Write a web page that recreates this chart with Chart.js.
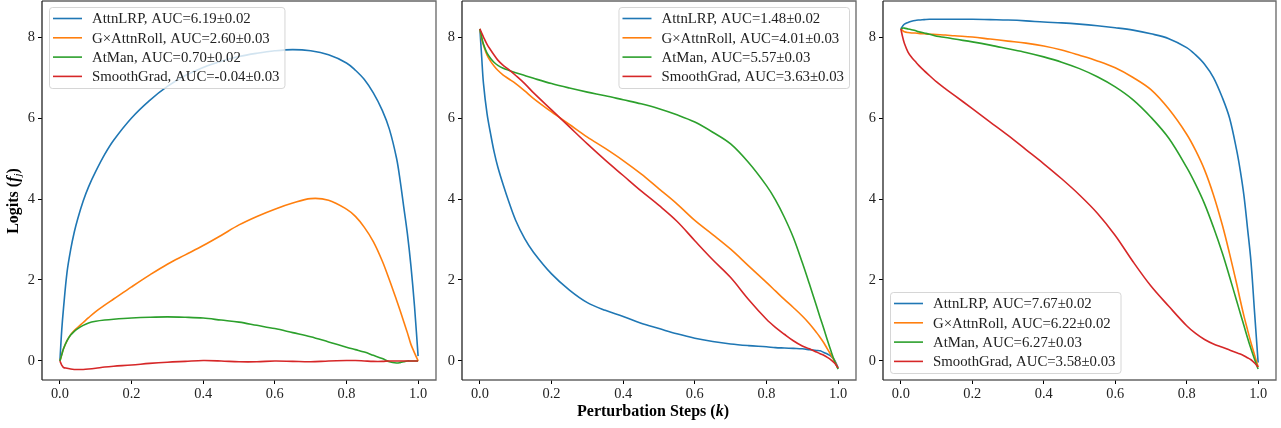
<!DOCTYPE html>
<html>
<head>
<meta charset="utf-8">
<script src="https://cdn.jsdelivr.net/npm/chart.js@4.4.1/dist/chart.umd.min.js"></script>
<style>
  html, body { margin: 0; padding: 0; background: #fff; }
  #wrap { position: relative; width: 1281px; height: 428px; overflow: hidden; }
  canvas { position: absolute; top: 0; }
</style>
</head>
<body>
<div id="wrap">
  <canvas id="panel1" style="left:0px;width:446px;height:428px" width="446" height="428"></canvas>
  <canvas id="panel2" style="left:420px;width:446px;height:428px" width="446" height="428"></canvas>
  <canvas id="panel3" style="left:841px;width:440px;height:428px" width="440" height="428"></canvas>
</div>
<script>
// perturbation steps (k) shared by every curve
const steps = [0, 0.005, 0.01, 0.02, 0.03, 0.04, 0.05, 0.065, 0.08, 0.1,
               0.125, 0.15, 0.2, 0.25, 0.3, 0.35, 0.4, 0.45, 0.5, 0.55,
               0.6, 0.65, 0.7, 0.75, 0.8, 0.825, 0.85, 0.875, 0.9, 0.92,
               0.94, 0.95, 0.96, 0.97, 0.98, 0.99, 1.0];

const methods = ['AttnLRP', 'G\u00d7AttnRoll', 'AtMan', 'SmoothGrad'];
const colors = ['#1f77b4', '#ff7f0e', '#2ca02c', '#d62728'];

const xTicks = [0, 0.2, 0.4, 0.6, 0.8, 1.0];
const yTicks = [0, 2, 4, 6, 8];

// panel 1
const auc1 = ['6.19\u00b10.02', '2.60\u00b10.03', '0.70\u00b10.02', '-0.04\u00b10.03'];
const lrp1 = [0, 0.75, 1.3, 2.2, 2.75, 3.18, 3.52, 3.95, 4.3, 4.68,
              5.1, 5.45, 6.0, 6.43, 6.78, 7.05, 7.25, 7.4, 7.52, 7.6,
              7.66, 7.69, 7.66, 7.56, 7.36, 7.18, 6.95, 6.62, 6.19, 5.72,
              5.0, 4.45, 3.8, 3.15, 2.35, 1.35, 0.12];
const roll1 = [0, 0.15, 0.3, 0.5, 0.65, 0.75, 0.83, 0.95, 1.07, 1.22,
               1.38, 1.53, 1.83, 2.12, 2.39, 2.62, 2.85, 3.1, 3.36, 3.57,
               3.75, 3.9, 4.01, 3.97, 3.75, 3.57, 3.3, 2.95, 2.47, 2.0,
               1.5, 1.24, 0.97, 0.7, 0.41, 0.2, 0];
const atman1 = [0, 0.15, 0.3, 0.5, 0.64, 0.73, 0.8, 0.88, 0.94, 0.98,
                1.01, 1.03, 1.06, 1.08, 1.09, 1.08, 1.06, 1.01, 0.96, 0.88,
                0.8, 0.7, 0.6, 0.47, 0.34, 0.28, 0.22, 0.14, 0.06, -0.02,
                -0.05, -0.04, -0.02, 0, 0, 0, 0];
const sg1 = [0, -0.1, -0.16, -0.18, -0.2, -0.21, -0.21, -0.21, -0.2, -0.18,
             -0.15, -0.13, -0.1, -0.06, -0.03, -0.01, 0.01, 0, -0.02, -0.02,
             0, -0.01, -0.02, 0, 0.01, 0.01, 0, -0.01, -0.01, 0,
             0, 0, 0, 0, 0, 0, 0];

// panel 2
const auc2 = ['1.48\u00b10.02', '4.01\u00b10.03', '5.57\u00b10.03', '3.63\u00b10.03'];
const lrp2 = [8.2, 7.5, 6.85, 6.1, 5.6, 5.15, 4.79, 4.35, 3.95, 3.47,
              3.02, 2.68, 2.15, 1.75, 1.44, 1.25, 1.1, 0.93, 0.8, 0.67,
              0.56, 0.48, 0.42, 0.38, 0.35, 0.33, 0.32, 0.31, 0.3, 0.28,
              0.26, 0.25, 0.21, 0.17, 0.12, 0.02, -0.17];
const roll2 = [8.2, 7.95, 7.8, 7.55, 7.4, 7.28, 7.18, 7.06, 6.97, 6.85,
               6.67, 6.48, 6.15, 5.84, 5.53, 5.25, 4.95, 4.62, 4.25, 3.88,
               3.47, 3.12, 2.76, 2.35, 1.94, 1.73, 1.52, 1.32, 1.11, 0.92,
               0.7, 0.58, 0.45, 0.3, 0.15, 0, -0.19];
const atman2 = [8.2, 8.0, 7.82, 7.6, 7.47, 7.37, 7.3, 7.23, 7.18, 7.12,
                7.05, 6.98, 6.85, 6.74, 6.64, 6.55, 6.45, 6.35, 6.23, 6.08,
                5.9, 5.65, 5.36, 4.9, 4.33, 3.98, 3.55, 3.05, 2.43, 1.9,
                1.35, 1.07, 0.8, 0.52, 0.25, 0.0, -0.2];
const sg2 = [8.2, 8.1, 8.0, 7.82, 7.68, 7.55, 7.43, 7.3, 7.2, 7.05,
             6.85, 6.62, 6.2, 5.78, 5.36, 4.96, 4.58, 4.2, 3.84, 3.45,
             2.97, 2.5, 2.06, 1.52, 1.03, 0.83, 0.66, 0.5, 0.37, 0.3,
             0.22, 0.18, 0.14, 0.09, 0.03, -0.05, -0.17];

// panel 3
const auc3 = ['7.67\u00b10.02', '6.22\u00b10.02', '6.27\u00b10.03', '3.58\u00b10.03'];
const lrp3 = [8.2, 8.27, 8.32, 8.36, 8.39, 8.41, 8.42, 8.43, 8.44, 8.44,
              8.44, 8.44, 8.44, 8.43, 8.42, 8.4, 8.37, 8.35, 8.32, 8.28,
              8.23, 8.17, 8.08, 7.96, 7.74, 7.56, 7.33, 7.0, 6.5, 6.0,
              5.2, 4.7, 4.1, 3.3, 2.45, 1.2, -0.04];
const roll3 = [8.2, 8.16, 8.13, 8.11, 8.1, 8.1, 8.09, 8.08, 8.07, 8.06,
               8.05, 8.03, 8.0, 7.95, 7.9, 7.85, 7.78, 7.68, 7.55, 7.41,
               7.24, 7.0, 6.7, 6.22, 5.6, 5.2, 4.72, 4.1, 3.35, 2.65,
               1.9, 1.5, 1.12, 0.78, 0.45, 0.15, -0.15];
const atman3 = [8.2, 8.22, 8.22, 8.2, 8.18, 8.16, 8.13, 8.1, 8.07, 8.02,
                7.99, 7.95, 7.88, 7.8, 7.71, 7.62, 7.51, 7.38, 7.22, 7.02,
                6.77, 6.45, 6.02, 5.5, 4.78, 4.36, 3.88, 3.3, 2.66, 2.08,
                1.48, 1.18, 0.88, 0.58, 0.3, 0.04, -0.2];
const sg3 = [8.2, 8.0, 7.84, 7.63, 7.5, 7.4, 7.3, 7.17, 7.05, 6.89,
             6.72, 6.56, 6.23, 5.9, 5.57, 5.22, 4.87, 4.5, 4.1, 3.65,
             3.1, 2.45, 1.85, 1.35, 0.87, 0.68, 0.53, 0.42, 0.34, 0.27,
             0.2, 0.17, 0.13, 0.08, 0.03, -0.05, -0.15];

const SERIF = "'Liberation Serif', 'DejaVu Serif', serif";
const TICK_FONT = { family: SERIF, size: 14.4 };

// box around the axes, like matplotlib spines
const frame = {
    id: 'frame',
    afterDraw(chart) {
        const { ctx, chartArea: a } = chart;
        ctx.save();
        ctx.lineWidth = 1.3;
        ctx.strokeStyle = '#666';
        ctx.beginPath();
        ctx.moveTo(a.left, a.top);
        ctx.lineTo(a.right, a.top);
        ctx.lineTo(a.right, a.bottom);
        ctx.lineTo(a.left, a.bottom);
        ctx.stroke();
        ctx.strokeStyle = '#222';
        ctx.beginPath();
        ctx.moveTo(a.left, a.top);
        ctx.lineTo(a.left, a.bottom);
        ctx.stroke();
        ctx.restore();
    }
};

// legend drawn inside the axes
const legendBox = {
    id: 'legendBox',
    afterDraw(chart, args, opts) {
        const { ctx, chartArea: a } = chart;
        const texts = methods.map((m, i) => m + ', AUC=' + opts.aucs[i]);
        ctx.save();
        ctx.font = '14.8px ' + SERIF;
        const tw = Math.max(...texts.map(t => ctx.measureText(t).width));
        const w = tw + 48, h = 81;
        const x = opts.corner.includes('r') ? a.right - 7 - w : a.left + 7;
        const y = opts.corner.includes('t') ? a.top + 6 : a.bottom - 7 - h;
        ctx.beginPath();
        ctx.roundRect(x + 0.5, y + 0.5, w, h, 3);
        ctx.fillStyle = 'rgba(255,255,255,0.8)';
        ctx.fill();
        ctx.strokeStyle = 'rgba(204,204,204,0.8)';
        ctx.lineWidth = 1;
        ctx.stroke();
        texts.forEach((t, i) => {
            const ry = y + 11.5 + i * 19.3;
            ctx.strokeStyle = colors[i];
            ctx.lineWidth = 1.6;
            ctx.beginPath();
            ctx.moveTo(x + 4, ry);
            ctx.lineTo(x + 33, ry);
            ctx.stroke();
            ctx.fillStyle = '#222';
            ctx.textBaseline = 'middle';
            ctx.fillText(t, x + 43, ry + 1);
        });
        ctx.restore();
    }
};

// mixed bold / italic axis titles
function drawParts(ctx, parts) {
    let total = 0;
    parts.forEach(p => { ctx.font = p.font; p.w = ctx.measureText(p.t).width; total += p.w; });
    let cx = -total / 2;
    parts.forEach(p => {
        ctx.font = p.font;
        ctx.fillText(p.t, cx, p.dy || 0);
        cx += p.w;
    });
}

const axisTitles = {
    id: 'axisTitles',
    afterDraw(chart, args, opts) {
        const ctx = chart.ctx;
        ctx.save();
        ctx.fillStyle = '#000';
        ctx.textBaseline = 'middle';
        if (opts.y) {
            ctx.translate(14, 201);
            ctx.rotate(-Math.PI / 2);
            drawParts(ctx, [
                { t: 'Logits (', font: 'bold 16px ' + SERIF },
                { t: 'f', font: 'bold italic 16px ' + SERIF },
                { t: 'j', font: 'italic 11px ' + SERIF, dy: 4 },
                { t: ')', font: 'bold 16px ' + SERIF }
            ]);
        }
        if (opts.x) {
            ctx.translate(chart.chartArea.left + (chart.chartArea.right - chart.chartArea.left) / 2 - 6, 412);
            drawParts(ctx, [
                { t: 'Perturbation Steps (', font: 'bold 16px ' + SERIF },
                { t: 'k', font: 'bold italic 16px ' + SERIF },
                { t: ')', font: 'bold 16px ' + SERIF }
            ]);
        }
        ctx.restore();
    }
};

function makePanel(canvasId, series, aucs, corner, rightPad, titles) {
    const ctx = document.getElementById(canvasId).getContext('2d');
    const datasets = series.map((vals, i) => ({
        label: methods[i],
        data: steps.map((s, j) => ({ x: s, y: vals[j] })),
        borderColor: colors[i],
        borderWidth: 1.6,
        pointRadius: 0,
        fill: false,
        tension: 0.35,
        order: 4 - i
    }));
    return new Chart(ctx, {
        type: 'line',
        data: { datasets: datasets },
        options: {
            responsive: false,
            animation: false,
            events: [],
            layout: { padding: { left: 0, right: rightPad, top: 1, bottom: 0 } },
            scales: {
                x: {
                    type: 'linear',
                    min: -0.05,
                    max: 1.05,
                    afterBuildTicks: s => { s.ticks = xTicks.map(v => ({ value: v })); },
                    afterFit: s => { s.height = 48; s.paddingLeft = 0; s.paddingRight = 0; },
                    grid: { drawOnChartArea: false, tickLength: 4, color: '#000' },
                    border: { display: false },
                    ticks: {
                        color: '#222', font: TICK_FONT, padding: 2, maxRotation: 0, autoSkip: false,
                        callback: v => Number(v).toFixed(1)
                    }
                },
                y: {
                    min: -0.47,
                    max: 8.89,
                    afterBuildTicks: s => { s.ticks = yTicks.map(v => ({ value: v })); },
                    afterFit: s => { s.width = 42; s.paddingTop = 0; s.paddingBottom = 0; },
                    grid: { drawOnChartArea: false, tickLength: 4, color: '#000' },
                    border: { display: false },
                    ticks: { color: '#222', font: TICK_FONT, padding: 3, callback: v => String(v) }
                }
            },
            plugins: {
                legend: { display: false },
                tooltip: { enabled: false },
                legendBox: { corner: corner, aucs: aucs },
                axisTitles: titles
            }
        },
        plugins: [frame, legendBox, axisTitles]
    });
}

makePanel('panel1', [lrp1, roll1, atman1, sg1], auc1, 'tl', 10, { y: true });
makePanel('panel2', [lrp2, roll2, atman2, sg2], auc2, 'tr', 10, { x: true });
makePanel('panel3', [lrp3, roll3, atman3, sg3], auc3, 'bl', 5, {});
</script>
</body>
</html>
